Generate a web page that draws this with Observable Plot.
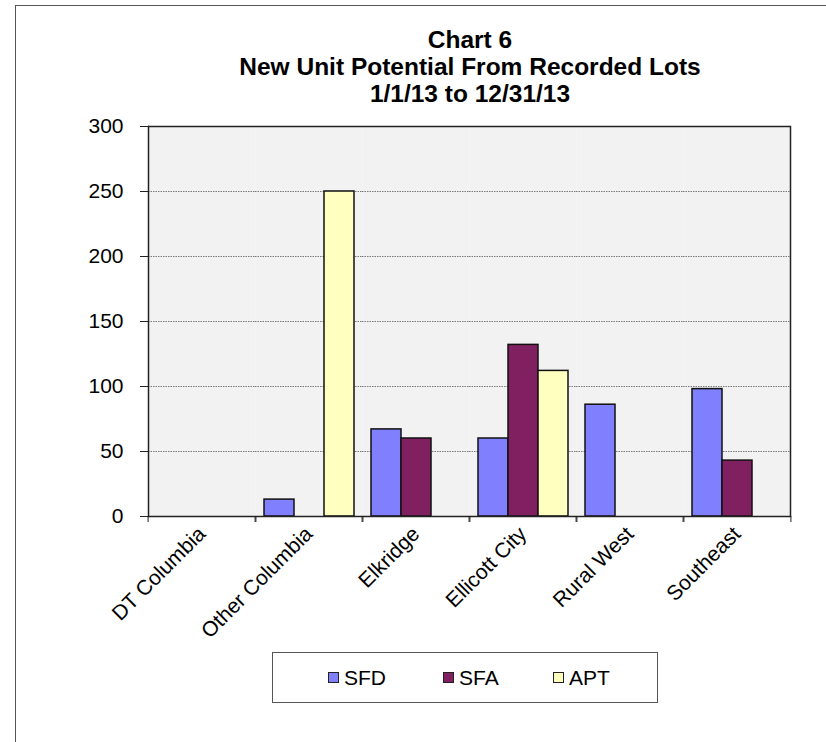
<!DOCTYPE html>
<html><head><meta charset="utf-8">
<script src="https://cdn.jsdelivr.net/npm/d3@7"></script>
<script src="https://cdn.jsdelivr.net/npm/@observablehq/plot@0.6"></script>
<style>
body{margin:0;background:#fff;font-family:"Liberation Sans",Arial,sans-serif;}
#wrap{position:relative;width:826px;height:742px;overflow:hidden;}
#border{position:absolute;left:15px;top:5px;width:900px;height:900px;border-left:1.5px solid #555;border-top:1.5px solid #555;}
#chart{position:absolute;left:0;top:0;}
#title{position:absolute;left:145px;width:650px;top:26px;text-align:center;font-weight:bold;font-size:24.5px;line-height:27px;color:#000;}
#legend{position:absolute;left:272px;top:652px;width:386px;height:51px;border:1px solid #555;box-sizing:border-box;}
.item{position:absolute;top:0;height:49px;display:flex;align-items:center;font-size:21px;color:#000;}
.sw{width:11px;height:11px;border:1px solid #222;margin-right:5px;box-sizing:border-box;}
</style></head>
<body><div id="wrap"><div id="border"></div><div id="chart"></div><div id="title"></div><div id="legend"></div></div>
<script>
const categories = ["DT Columbia","Other Columbia","Elkridge","Ellicott City","Rural West","Southeast"];
const seriesNames = ["SFD","SFA","APT"];
const sfd = [0,13,67,60,86,98];
const sfa = [0,0,60,132,0,43];
const apt = [0,250,0,112,0,0];
const yTicks = [0,50,100,150,200,250,300];
const titleLines = ["Chart 6","New Unit Potential From Recorded Lots","1/1/13 to 12/31/13"];
const colors = ["#8080ff","#802060","#ffffc0"];

const seriesValues = [sfd, sfa, apt];
const rows = categories.flatMap((c, i) => seriesNames.map((s, j) => ({category: c, series: s, value: seriesValues[j][i]})));

const W = 826, H = 742, mL = 145, mR = 34, mT = 126, mB = 226;
const step = (W - mL - mR) / categories.length;
const font = '"Liberation Sans", Arial, sans-serif';

const chart = Plot.plot({
  width: W, height: H,
  marginLeft: mL, marginRight: mR, marginTop: mT, marginBottom: mB,
  style: {fontFamily: font, fontSize: "21px", background: "transparent", color: "#000", overflow: "visible"},
  fx: {domain: categories, padding: 0, label: null},
  x: {domain: seriesNames, paddingInner: 0, paddingOuter: 0.268, axis: null},
  y: {domain: [0, 300], label: null},
  color: {domain: seriesNames, range: colors},
  marks: [
    Plot.frame({fill: "#f2f2f2", stroke: "none"}),
    Plot.gridY(yTicks, {stroke: "#7a7a7a", strokeOpacity: 1, strokeWidth: 1, strokeDasharray: "1.5,1"}),
    Plot.barY(rows, {fx: "category", x: "series", y: "value", fill: "series", stroke: "#111", strokeWidth: 1.5, strokeOpacity: d => d.value > 0 ? 1 : 0}),
    Plot.ruleY([0, 300], {stroke: "#222", strokeWidth: 1.5}),
    Plot.frame({anchor: "left", facetAnchor: "left", stroke: "#222", strokeWidth: 1.5}),
    Plot.frame({anchor: "right", facetAnchor: "right", stroke: "#222", strokeWidth: 1.5}),
    Plot.axisY(yTicks, {tickSize: 8, tickPadding: 17, label: null, fontSize: 21, stroke: "#222"}),
    Plot.axisFx({anchor: "bottom", tickSize: 0, tickRotate: -45, tickPadding: 14, label: null, fontSize: 21}),
    Plot.axisFx({anchor: "bottom", tickSize: 6, tickFormat: () => "", label: null, dx: -step / 2, stroke: "#222"}),
    Plot.axisFx({anchor: "bottom", tickSize: 6, tickFormat: () => "", label: null, dx: step / 2, stroke: "#222"})
  ]
});
document.getElementById("chart").appendChild(chart);

document.getElementById("title").innerHTML = titleLines.map(t => `<div>${t}</div>`).join("");

const legend = document.getElementById("legend");
const offsets = [55, 170, 280];
seriesNames.forEach((s, j) => {
  const it = document.createElement("div");
  it.className = "item";
  it.style.left = offsets[j] + "px";
  it.innerHTML = `<span class="sw" style="background:${colors[j]}"></span><span>${s}</span>`;
  legend.appendChild(it);
});
</script>
</body></html>
